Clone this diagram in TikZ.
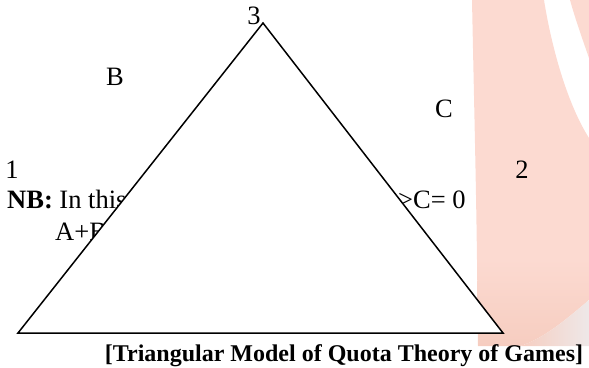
\documentclass[tikz,border=0pt]{standalone}
\usepackage{fontspec}
\setmainfont{Liberation Serif}
\usepackage{tikz}
\usetikzlibrary{positioning}
\usepackage{xcolor}
\definecolor{wmpink}{RGB}{252,218,209}
\definecolor{wmorange}{RGB}{246,205,192}
\definecolor{wmgray}{RGB}{238,232,232}

\begin{document}
\begin{tikzpicture}[
  x=1pt, y=-1pt,
  txt/.style={inner sep=0pt, font=\fontsize{26.5}{30}\selectfont},
  captxt/.style={inner sep=0pt, font=\fontsize{24}{28}\selectfont\bfseries},
  tri/.style={draw, fill=white, line width=1.5pt, line join=miter}
]
\useasboundingbox (0,0) rectangle (589,367);

% Watermark in the background
\fill[wmpink] (472,0) -- (544,0) .. controls (552,50) and (568,105) .. (589,138)
  -- (589,260) -- (477,260) .. controls (476,180) and (474,100) .. (472,0);
\fill[wmpink] (570,0) -- (589,0) -- (589,58) .. controls (582,38) and (575,18) .. (570,0);
\shade[top color=wmpink, bottom color=wmorange] (477,259) -- (589,259) -- (589,300)
  .. controls (560,325) and (540,340) .. (520,346) -- (478,346) -- cycle;
\shade[left color=wmorange, right color=wmgray] (520,346) .. controls (540,340) and (560,325) .. (589,300)
  -- (589,346) -- cycle;

% Note text, covered by the triangle
\node[txt, anchor=base west] (nb) at (7,208) {\textbf{NB:} In this};
\node[txt, anchor=base west] (rest) at (398,208) {>C= 0};
\node[txt, anchor=base west] (sum) at (55,240) {A+B};

% Triangle
\coordinate (v1) at (18,333);
\coordinate (v2) at (503,333);
\coordinate (v3) at (263,23);
\draw[tri] (v1) -- (v2) -- (v3) -- cycle;

% Labels
\node[txt, anchor=base] (l3) at (254,24) {3};
\node[txt, anchor=base] (l1) at (12,178) {1};
\node[txt, anchor=base] (l2) at (522,178) {2};
\node[txt, anchor=base] (lb) at (115,85) {B};
\node[txt, anchor=base] (lc) at (444,117) {C};

% Caption
\node[captxt, anchor=base] (title) at (344,361) {[Triangular Model of Quota Theory of Games]};

\end{tikzpicture}
\end{document}
